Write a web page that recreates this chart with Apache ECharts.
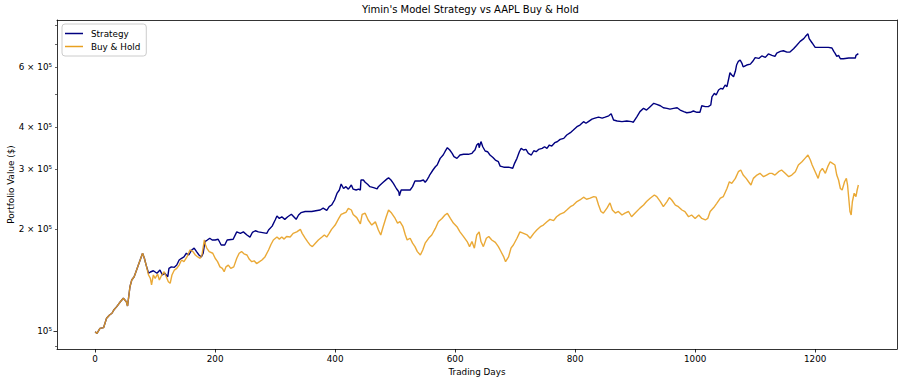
<!DOCTYPE html>
<html><head><meta charset="utf-8">
<script src="https://cdn.jsdelivr.net/npm/echarts@6/dist/echarts.min.js"></script>
<style>html,body{margin:0;padding:0;background:#fff}#c{width:904px;height:384px}</style>
</head><body><div id="c"></div>
<script>
const stratDays = [0,3,8,14,19,24,28,31,36,42,47,52,54,58,61,65,68,72,75,79,82,85,89,92,97,103,108,112,116,121,123,127,132,136,140,144,148,152,156,161,165,169,173,177,180,183,187,191,195,200,205,210,216,220,230,236,242,247,253,258,262,267,272,286,289,295,300,303,307,311,316,321,327,331,335,339,343,350,361,370,375,380,386,390,394,399,403,407,410,414,418,422,427,430,435,439,442,443,447,450,454,458,464,470,472,475,480,486,489,493,497,502,506,507,510,514,525,529,533,542,547,550,553,556,558,563,567,570,575,580,583,587,591,595,598,603,608,614,622,628,630,633,636,639,640,643,646,650,654,658,663,667,672,675,681,689,696,699,703,707,710,714,718,722,727,731,735,739,745,749,753,757,761,766,770,775,781,786,792,797,803,808,814,818,822,828,833,839,845,850,856,860,864,870,878,886,894,897,903,908,914,919,925,931,936,942,947,953,958,964,970,975,981,986,992,997,1003,1008,1011,1017,1022,1026,1028,1032,1035,1039,1043,1046,1050,1053,1056,1058,1061,1064,1067,1069,1072,1075,1078,1080,1086,1092,1096,1100,1106,1111,1117,1122,1128,1133,1136,1142,1147,1153,1158,1164,1169,1175,1181,1184,1188,1190,1195,1200,1211,1222,1228,1231,1233,1236,1239,1242,1247,1256,1267,1268,1272];
const stratValues = [99500,98400,101800,102300,109000,111500,112800,115300,118000,122000,124900,122000,118500,135100,141400,144600,149600,156500,162000,169600,163900,156500,148000,149300,150600,148000,151300,146300,148000,144600,153000,154600,154100,156500,162000,163900,165400,169600,167600,173400,175600,171500,167600,165400,169600,183600,185600,187800,185600,185600,186500,179400,179400,185600,186500,196100,194100,196100,192000,189300,195300,197600,196100,194100,198600,203900,212600,218400,214800,217300,213500,217300,221100,217300,213500,219900,223400,225200,225200,226800,227500,230400,226800,232700,235300,243500,254600,260600,271400,263300,266600,262100,269600,262100,260600,262100,260600,278900,278900,274600,270900,266600,264800,262600,266600,269600,274600,280600,283200,278900,272700,263300,257500,250600,260600,260600,260600,266600,277000,277000,278900,274600,278900,284900,289500,298500,305100,308800,323100,330500,338000,347300,341900,334300,326800,323100,330500,332100,332100,334300,338000,341900,353700,357800,347300,362100,349600,339600,338000,330500,324800,319400,315900,306500,304300,304300,302100,312300,323100,338000,345700,341900,343400,334300,330500,340200,338000,343400,345700,349600,345700,353700,351300,359300,361700,367600,370000,378600,384600,391600,400600,405200,414600,410000,414600,421600,424600,427500,424600,427500,431300,437400,419200,416400,414600,416400,414600,412900,429200,443800,454000,448600,459000,469500,466400,461900,455600,453700,451500,453700,455600,448600,443600,440500,441800,445700,441800,441800,461900,459000,459000,464100,490800,502400,496800,513900,520000,517400,531700,525800,555800,577900,569100,562100,583600,609100,624600,630100,616000,601400,609100,612600,624600,640300,637000,647900,641500,656700,650000,645600,660300,667900,671000,664900,664900,680200,695800,715100,728500,740100,752600,728500,707400,686500,686500,686500,683800,667900,660300,645600,650000,635500,635500,638800,638800,650000,657800];
const bhDays = [0,3,8,14,19,24,28,31,36,42,47,52,54,58,61,65,68,72,75,79,82,85,89,92,94,97,100,104,107,111,115,118,122,125,128,132,136,140,144,148,153,158,163,167,171,175,178,182,184,186,190,196,200,204,208,212,215,218,222,226,231,236,240,244,248,253,257,261,265,269,274,278,283,289,293,297,303,307,311,315,319,325,330,336,342,345,350,354,358,362,367,372,378,382,386,390,394,400,406,410,414,418,422,427,430,436,442,445,450,455,461,467,472,476,480,485,489,494,500,504,508,513,517,520,525,529,533,537,542,546,550,556,561,567,572,578,583,587,592,597,603,608,614,620,624,628,632,636,640,643,647,652,656,661,667,672,675,681,684,689,693,697,703,708,714,720,725,731,736,742,747,753,758,764,769,775,781,786,792,797,803,808,814,819,825,831,835,839,843,847,853,858,862,867,872,878,883,889,894,900,908,914,919,925,932,936,942,947,953,957,961,967,972,978,983,989,994,1000,1006,1011,1017,1021,1025,1031,1036,1042,1047,1053,1057,1061,1067,1072,1076,1080,1085,1089,1093,1097,1103,1108,1114,1119,1124,1128,1133,1139,1144,1150,1156,1161,1167,1172,1178,1183,1188,1192,1195,1200,1205,1208,1212,1217,1221,1225,1229,1233,1236,1239,1242,1245,1249,1252,1254,1257,1258,1260,1262,1265,1268,1270,1272];
const bhValues = [99500,98400,101800,102300,109000,111500,112800,115300,118000,122000,124900,122000,118500,135100,141400,144600,149600,156500,162000,169600,163900,156500,146300,143000,136700,146300,143000,147300,141400,146300,149600,145300,139800,138300,146300,151300,153000,156500,162000,160200,165400,173400,171500,167600,165400,163900,167600,185600,179400,175600,171500,169600,163900,160200,154600,153000,149600,154600,156500,153000,154600,163900,169600,171500,168900,167600,162700,160200,161100,158100,160200,162000,165400,173400,180000,185600,189300,186700,189300,186700,190000,189300,194100,196100,199500,194100,188000,183600,179400,177400,181600,185600,189300,192000,189300,194100,199500,205400,214800,220700,222500,223800,230000,227500,220700,216000,207000,220700,222500,212600,205400,209900,198600,192000,203100,216900,227500,222800,214800,208100,210100,203100,192000,185600,187800,181600,177400,171500,167600,173400,181600,188000,192000,200700,210100,214800,219900,222400,214800,208100,203100,196100,189800,183600,177400,183600,175500,192000,196100,183600,177400,187800,190000,185600,182500,177400,173400,165400,160200,165400,175500,179400,187800,196100,194100,192000,187800,194100,198600,203100,205400,210100,213500,211700,217300,221300,223400,227500,232700,235300,240900,243500,248200,244800,246500,249200,248200,235300,225200,222800,230400,238800,227500,222800,225200,219900,222800,225200,217300,222800,230400,235300,240900,246500,251900,249200,240900,232700,240900,247500,243500,235300,232700,227500,225000,217300,219900,214800,219900,214800,212600,214800,225200,231300,238000,246500,249200,263300,275600,272500,282000,295100,298500,288500,282000,275600,269600,282000,288500,291800,285200,288500,291800,291800,288500,295100,298500,291800,285200,288500,295100,308800,315800,323100,330500,319400,308800,295100,282000,295100,302000,291800,305400,315800,312200,308800,288500,278900,263300,260600,275600,282000,269600,235300,225200,219900,240600,254900,249200,260600,269600];
const xTickValues = [0,200,400,600,800,1000,1200];
const yMajorTicks = [100000];
const yMinorTicks = [90000,200000,300000,400000,500000,600000,700000,800000];
const yLabelValues = [100000,200000,300000,400000,600000];
const yLabelTexts = ['10\u2075','2 \u00d7 10\u2075','3 \u00d7 10\u2075','4 \u00d7 10\u2075','6 \u00d7 10\u2075'];
const seriesNames = ['Strategy','Buy & Hold'];

const FONT = 'DejaVu Sans';
const xMin = -63.6, xMax = 1336.4, yMin = 88500, yMax = 826900;
const zip = (a, b) => a.map((d, i) => [d, b[i]]);
const fmtY = v => {
  for (let i = 0; i < yLabelValues.length; i++) {
    if (Math.abs(v - yLabelValues[i]) / yLabelValues[i] < 1e-4) return yLabelTexts[i];
  }
  return '';
};
const frameAxis = {
  axisLine: {show: true, onZero: false, lineStyle: {color: '#000', width: 0.8}},
  axisTick: {show: false}, axisLabel: {show: false}, splitLine: {show: false}
};

const chart = echarts.init(document.getElementById('c'), null, {renderer: 'svg'});
chart.setOption({
  animation: false,
  backgroundColor: '#fff',
  title: {
    text: "Yimin's Model Strategy vs AAPL Buy & Hold",
    left: 362, top: 4, padding: 0,
    textStyle: {fontFamily: FONT, fontSize: 10, fontWeight: 'normal', color: '#000'}
  },
  legend: {
    orient: 'vertical', left: 62, top: 24,
    data: seriesNames.map(n => ({name: n, icon: 'rect'})),
    itemWidth: 18, itemHeight: 1.5, itemGap: 4,
    padding: [5, 6, 5, 3],
    backgroundColor: 'rgba(255,255,255,0.8)',
    borderColor: '#cccccc', borderWidth: 1, borderRadius: 3,
    textStyle: {fontFamily: FONT, fontSize: 8.8, color: '#000', padding: [0, 0, 0, 3]}
  },
  grid: {left: 57, right: 7, top: 20, bottom: 35, containLabel: false, outerBoundsMode: 'none'},
  xAxis: [{
    type: 'value', min: xMin, max: xMax,
    name: 'Trading Days', nameLocation: 'middle', nameGap: 18, nameMoveOverlap: false,
    nameTextStyle: {fontFamily: FONT, fontSize: 8.8, color: '#000'},
    axisLine: {onZero: false, lineStyle: {color: '#000', width: 0.8}},
    axisTick: {customValues: xTickValues, length: 3.5, lineStyle: {color: '#000', width: 0.8}},
    axisLabel: {customValues: xTickValues, formatter: v => String(v), margin: 5, fontFamily: FONT, fontSize: 8.8, color: '#000'},
    splitLine: {show: false}
  }, Object.assign({type: 'value', min: xMin, max: xMax, position: 'top'}, frameAxis)],
  yAxis: [{
    type: 'log', logBase: 10, min: yMin, max: yMax, position: 'left',
    name: 'Portfolio Value ($)', nameLocation: 'middle', nameGap: 42, nameMoveOverlap: false,
    nameTextStyle: {fontFamily: FONT, fontSize: 8.8, color: '#000'},
    axisLine: {show: true, onZero: false, lineStyle: {color: '#000', width: 0.8}},
    axisTick: {customValues: yMajorTicks, length: 3.5, lineStyle: {color: '#000', width: 0.8}},
    axisLabel: {customValues: yLabelValues, formatter: fmtY, margin: 5, fontFamily: FONT, fontSize: 8.8, color: '#000'},
    splitLine: {show: false}, minorTick: {show: false}
  }, {
    type: 'log', logBase: 10, min: yMin, max: yMax, position: 'left',
    axisLine: {show: false, onZero: false},
    axisTick: {customValues: yMinorTicks, length: 2, lineStyle: {color: '#000', width: 0.6}},
    axisLabel: {show: false},
    splitLine: {show: false}
  }, Object.assign({type: 'log', logBase: 10, min: yMin, max: yMax, position: 'right'}, frameAxis)],
  series: [{
    name: seriesNames[0], type: 'line', symbol: 'none', xAxisIndex: 0, yAxisIndex: 0,
    data: zip(stratDays, stratValues),
    lineStyle: {color: '#000080', width: 1.4}, itemStyle: {color: '#000080'}
  }, {
    name: seriesNames[1], type: 'line', symbol: 'none', xAxisIndex: 0, yAxisIndex: 0,
    data: zip(bhDays, bhValues),
    lineStyle: {color: '#E8A020', width: 1.4, opacity: 0.9}, itemStyle: {color: '#E8A020'}
  }]
});
</script></body></html>
